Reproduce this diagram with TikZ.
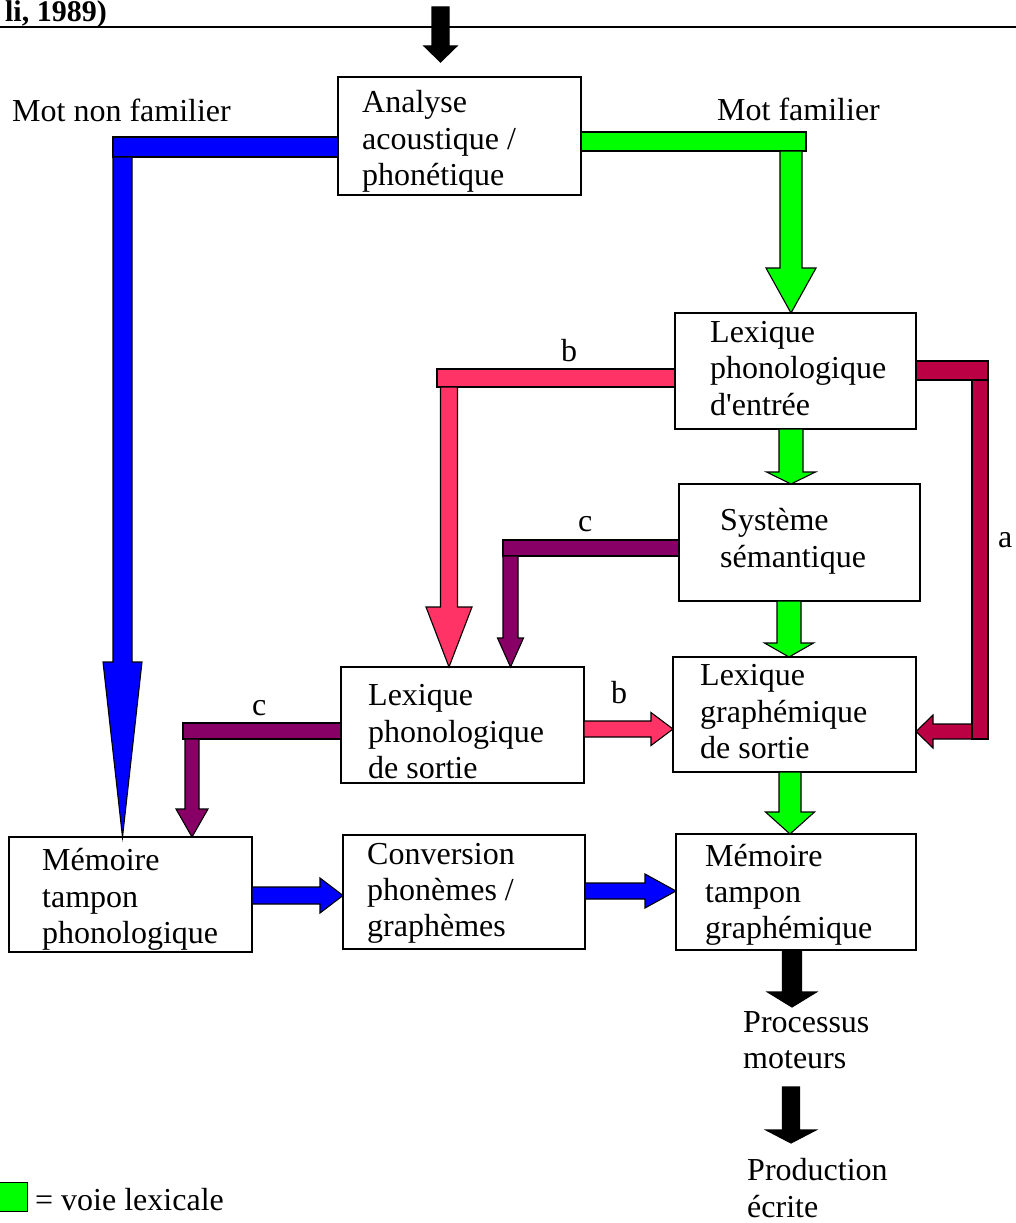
\documentclass[tikz,border=0pt]{standalone}
\usepackage{fontspec}
\setmainfont{Liberation Serif}
\usetikzlibrary{calc}
\definecolor{grn}{RGB}{0,255,0}
\definecolor{blu}{RGB}{0,0,255}
\definecolor{pnk}{RGB}{255,51,102}
\definecolor{prp}{RGB}{136,0,102}
\definecolor{drd}{RGB}{187,0,68}
% block arrow: fill colour, start, tip, half shaft, half head, head length
\newcommand\barrow[6]{%
  \coordinate (bs) at #2; \coordinate (bt) at #3;
  \coordinate (hb) at ($(bt)!#6!(bs)$);
  \filldraw[arrowline, fill=#1] ($(bs)!#4!90:(bt)$) -- ($(hb)!#4!90:(bt)$) -- ($(hb)!#5!90:(bt)$) -- (bt) -- ($(hb)!#5!-90:(bt)$) -- ($(hb)!#4!-90:(bt)$) -- ($(bs)!#4!-90:(bt)$) -- cycle;}
\begin{document}
\begin{tikzpicture}[x=1pt,y=-1pt,
  box/.style={draw, line width=1.4pt, inner sep=0pt, outer sep=0pt, anchor=north west},
  bar/.style={draw, line width=1.1pt, inner sep=0pt, outer sep=0pt},
  arrowline/.style={draw=black, line width=1.1pt, line join=miter},
  txt/.style={inner sep=0pt, anchor=base west, font=\fontsize{32}{36}\selectfont}]
\useasboundingbox (0,0) rectangle (1016,1223);

% title and rule
\node[inner sep=0pt, anchor=base east, font=\bfseries\fontsize{30}{34}\selectfont] (title) at (107,22) {li, 1989)};
\coordinate (rl) at (0,27); \coordinate (rr) at (1016,27);
\draw[line width=1.3pt] (rl) -- (rr);

% boxes
\node[box, minimum width=243pt, minimum height=118pt] (ana) at (338,77) {};
\node[box, minimum width=241pt, minimum height=116pt] (lpe) at (675,313) {};
\node[box, minimum width=241pt, minimum height=117pt] (sem) at (679,484) {};
\node[box, minimum width=243pt, minimum height=115pt] (lgs) at (673,657) {};
\node[box, minimum width=243pt, minimum height=116pt] (lps) at (341,667) {};
\node[box, minimum width=243pt, minimum height=115pt] (mph) at (9,837) {};
\node[box, minimum width=242pt, minimum height=114pt] (conv) at (343,835) {};
\node[box, minimum width=240pt, minimum height=116pt] (mgr) at (676,834) {};

% box texts
\node[txt] (ana1) at (362,112) {Analyse};
\node[txt] (ana2) at (362,149) {acoustique /};
\node[txt] (ana3) at (362,185) {phonétique};
\node[txt] (lpe1) at (710,342) {Lexique};
\node[txt] (lpe2) at (710,378) {phonologique};
\node[txt] (lpe3) at (710,415) {d\textquotesingle entrée};
\node[txt] (sem1) at (720,530) {Système};
\node[txt] (sem2) at (720,567) {sémantique};
\node[txt] (lgs1) at (700,685) {Lexique};
\node[txt] (lgs2) at (700,722) {graphémique};
\node[txt] (lgs3) at (700,758) {de sortie};
\node[txt] (lps1) at (368,705) {Lexique};
\node[txt] (lps2) at (368,742) {phonologique};
\node[txt] (lps3) at (368,778) {de sortie};
\node[txt] (mph1) at (42,870) {Mémoire};
\node[txt] (mph2) at (42,907) {tampon};
\node[txt] (mph3) at (42,943) {phonologique};
\node[txt] (conv1) at (367,864) {Conversion};
\node[txt] (conv2) at (367,900) {phonèmes /};
\node[txt] (conv3) at (367,936) {graphèmes};
\node[txt] (mgr1) at (705,866) {Mémoire};
\node[txt] (mgr2) at (705,902) {tampon};
\node[txt] (mgr3) at (705,938) {graphémique};

% free texts
\node[txt] (mnf) at (12,121) {Mot non familier};
\node[txt] (mf) at (717,120) {Mot familier};
\node[txt] (proc1) at (743,1032) {Processus};
\node[txt] (proc2) at (743,1068) {moteurs};
\node[txt] (prod1) at (747,1180) {Production};
\node[txt] (prod2) at (747,1217) {écrite};
\node[txt] (lb1) at (561,361) {b};
\node[txt] (lb2) at (611,703) {b};
\node[txt] (lc1) at (578,531) {c};
\node[txt] (lc2) at (252,715) {c};
\node[txt] (la) at (998,547) {a};

% legend
\node[draw, line width=1.1pt, fill=grn, inner sep=0pt, minimum width=30pt, minimum height=29pt, anchor=north west] (leg) at (-3,1182) {};
\node[txt] (legt) at (35,1210) {= voie lexicale};

% bars
\node[bar, fill=blu, minimum width=225pt, minimum height=20pt, anchor=east] (bbar) at ($(ana.west)+(0,11)$) {};
\node[bar, fill=grn, minimum width=225pt, minimum height=19pt, anchor=west] (gbar) at ($(ana.east)+(0,5.5)$) {};
\node[bar, fill=pnk, minimum width=238pt, minimum height=18pt, anchor=east] (pbar) at ($(lpe.west)+(0,7)$) {};
\node[bar, fill=prp, minimum width=176pt, minimum height=16pt, anchor=east] (cbar) at ($(sem.west)+(0,5.5)$) {};
\node[bar, fill=prp, minimum width=158pt, minimum height=16pt, anchor=east] (cbar2) at ($(lps.west)+(0,6)$) {};

% a path (dark red)
\barrow{drd}{($(lgs.east)+(65,17)$)}{($(lgs.east)+(0,17)$)}{7.5pt}{16.5pt}{17pt}
\node[bar, fill=drd, minimum width=16pt, minimum height=359pt, anchor=north east] (redv) at ($(lpe.east)+(72,9)$) {};
\node[bar, fill=drd, minimum width=72pt, minimum height=19pt, anchor=west] (rbar) at ($(lpe.east)+(0,-0.5)$) {};

% arrows
\barrow{blu}{($(bbar.south west)+(9.5,0)$)}{($(mph.north west)+(113.5,0)$)}{9.5pt}{19.5pt}{175pt}
\barrow{grn}{($(gbar.south west)+(210,0)$)}{($(lpe.north west)+(116,0)$)}{11pt}{25pt}{45pt}
\barrow{grn}{($(lpe.south west)+(116,0)$)}{($(sem.north west)+(112,0)$)}{12pt}{24.5pt}{12pt}
\barrow{grn}{($(sem.south west)+(110,0)$)}{($(lgs.north west)+(116,0)$)}{12pt}{24.5pt}{14pt}
\barrow{grn}{($(lgs.south west)+(117,0)$)}{($(mgr.north west)+(114,0)$)}{11pt}{24.5pt}{22pt}
\barrow{pnk}{($(pbar.south west)+(12,0)$)}{($(lps.north west)+(108,0)$)}{8.5pt}{23pt}{60pt}
\barrow{prp}{($(cbar.south west)+(7.5,0)$)}{($(lps.north west)+(169.5,0)$)}{7.5pt}{13pt}{29pt}
\barrow{pnk}{($(lps.east)+(0,4)$)}{($(lgs.west)+(0,14.5)$)}{8pt}{16.5pt}{22pt}
\barrow{prp}{($(cbar2.south west)+(9,0)$)}{($(mph.north west)+(183,0)$)}{7pt}{16pt}{28pt}
\barrow{blu}{($(mph.east)+(0,1)$)}{($(conv.west)+(0,3.5)$)}{8.5pt}{17.5pt}{23pt}
\barrow{blu}{($(conv.east)+(0,-1)$)}{($(mgr.west)+(0,-1)$)}{8pt}{17pt}{31pt}

% black arrows
\coordinate (topin) at (440.5,7);
\coordinate (topout) at (440.5,62);
\barrow{black}{(topin)}{(topout)}{8.5pt}{16.5pt}{16pt}
\coordinate (procin) at ($(proc1.base west)+(49,-25)$);
\barrow{black}{($(mgr.south west)+(116,0)$)}{(procin)}{9.5pt}{24.5pt}{15pt}
\coordinate (motout) at ($(proc2.base west)+(48,19)$);
\coordinate (prodin) at ($(prod1.base west)+(44,-37)$);
\barrow{black}{(motout)}{(prodin)}{8.5pt}{25pt}{13pt}
\end{tikzpicture}
\end{document}
